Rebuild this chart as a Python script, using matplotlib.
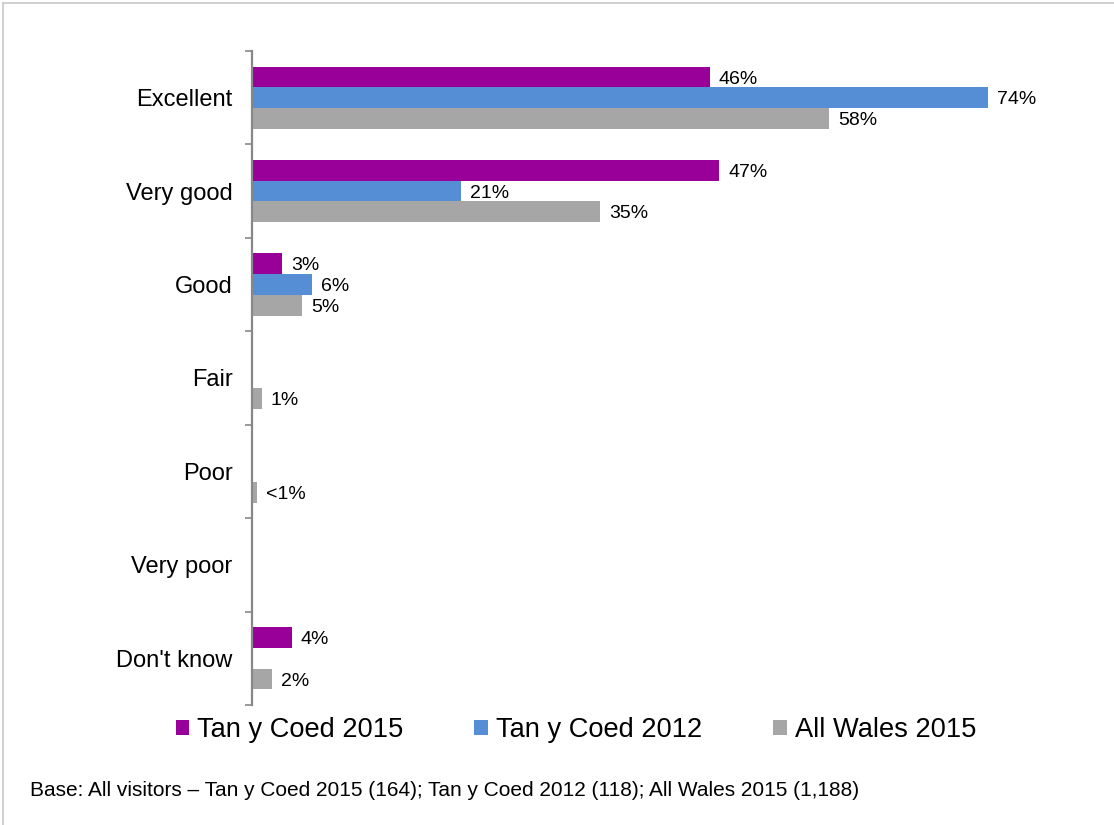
import numpy as np
import matplotlib.pyplot as plt
from matplotlib.patches import Patch
from matplotlib.lines import Line2D

plt.rcParams['font.family'] = ['Liberation Sans', 'DejaVu Sans']

categories = ["Excellent", "Very good", "Good", "Fair", "Poor", "Very poor", "Don't know"]
series_names = ["Tan y Coed 2015", "Tan y Coed 2012", "All Wales 2015"]
tan_2015 = [46, 47, 3, np.nan, np.nan, np.nan, 4]
tan_2012 = [74, 21, 6, np.nan, np.nan, np.nan, np.nan]
wales_2015 = [58, 35, 5, 1, 0.5, np.nan, 2]
wales_labels = ["58%", "35%", "5%", "1%", "<1%", "", "2%"]
colors = ["#990099", "#558ED5", "#A6A6A6"]

fig = plt.figure(figsize=(11.14, 8.25), dpi=100)
ax = fig.add_axes([0.2262, 0.1455, 0.7143, 0.7927])

y = np.arange(len(categories))
h = 0.222
all_series = [tan_2015, tan_2012, wales_2015]
for k, (vals, col) in enumerate(zip(all_series, colors)):
    pos = y + (k - 1) * h
    ax.barh(pos, vals, height=h, color=col, label=series_names[k])
    for p, v, i in zip(pos, vals, range(len(vals))):
        if np.isnan(v):
            continue
        txt = wales_labels[i] if k == 2 else f"{v:.0f}%"
        ax.annotate(txt, (v, p), xytext=(6.5, -1.5), textcoords="offset points",
                    va="center", ha="left", fontsize=14)

ax.set_xlim(0, 80)
ax.set_ylim(len(categories) - 0.5, -0.5)
ax.set_yticks(y)
ax.set_yticklabels(categories, fontsize=17)
ax.set_yticks(np.arange(-0.5, len(categories)), minor=True)
ax.tick_params(axis="y", which="major", length=0, pad=14)
ax.tick_params(axis="y", which="minor", length=5, width=1.2, color="#888888")
ax.set_xticks([])
for s in ["top", "right", "bottom"]:
    ax.spines[s].set_visible(False)
ax.spines["left"].set_color("#888888")
ax.spines["left"].set_linewidth(1.6)

handles = [Patch(facecolor=c, edgecolor="none") for c in colors]
fig.legend(handles, series_names, loc="center", ncol=3,
           bbox_to_anchor=(576 / 1114, 1 - 730 / 825), frameon=False,
           fontsize=19.6, handlelength=0.5, handleheight=0.5,
           handletextpad=0.3, columnspacing=2.6)

fig.text(30 / 1114, 1 - 790 / 825,
         "Base: All visitors \u2013 Tan y Coed 2015 (164); Tan y Coed 2012 (118); All Wales 2015 (1,188)",
         fontsize=15, va="center", ha="left")

# thin frame along the top and left edges
fig.add_artist(Line2D([3 / 1114, 1], [1 - 3 / 825, 1 - 3 / 825], color="#c8c8c8", lw=1.2))
fig.add_artist(Line2D([3 / 1114, 3 / 1114], [0, 1 - 3 / 825], color="#c8c8c8", lw=1.2))

fig.savefig("out.png", dpi=100)
